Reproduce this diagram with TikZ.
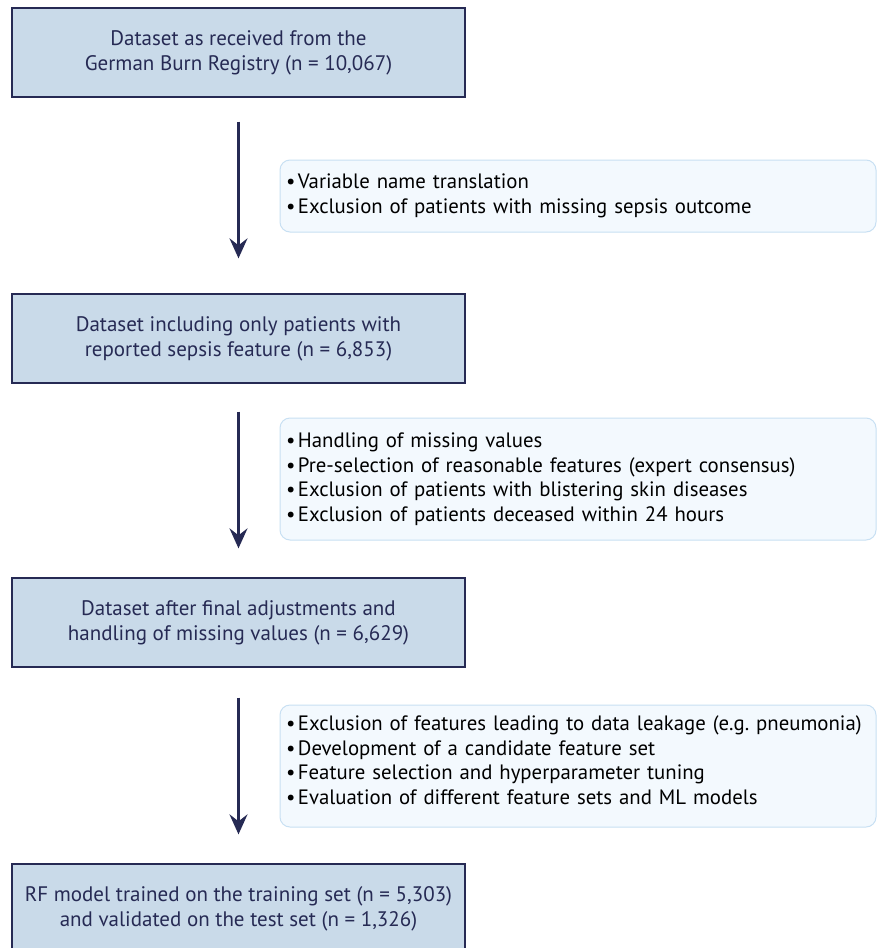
\documentclass[tikz,border=0pt]{standalone}
\usepackage{fontspec}
\setmainfont{PT Sans}
\usetikzlibrary{positioning,arrows.meta}
\definecolor{navyline}{RGB}{38,42,84}
\definecolor{stepblue}{RGB}{201,218,233}
\definecolor{noteedge}{RGB}{200,224,243}
\definecolor{notefill}{RGB}{243,249,254}
\newcommand{\pt}{\textbullet\hspace{2.5pt}}
\frenchspacing
\tikzset{
  stepbox/.style={draw=navyline,line width=1.3pt,fill=stepblue,text=navyline,
    minimum width=453pt,minimum height=89pt,align=center,
    font=\fontsize{21}{25}\selectfont},
  notebox/.style={draw=noteedge,line width=1pt,fill=notefill,rounded corners=10pt,
    minimum width=596pt,text width=584pt,inner xsep=6pt,align=left,
    font=\fontsize{20.8}{24.5}\selectfont},
  flow/.style={navyline,line width=2.4pt,
    -{Stealth[length=20pt,width=18pt,inset=7pt]}}
}
\begin{document}
\begin{tikzpicture}[x=1pt,y=-1pt]
  \useasboundingbox (0,0) rectangle (882,948);
  \clip (0,0) rectangle (882,948);
  \fill[white] (0,0) rectangle (882,948);

  % main steps
  \node[stepbox] (raw)   at (238.5,52.5)  {Dataset as received from the\\German Burn Registry (n = 10,067)};
  \node[stepbox] (sepsis) at (238.5,338.5) {Dataset including only patients with\\reported sepsis feature (n = 6,853)};
  \node[stepbox] (final) at (238.5,622.5) {Dataset after final adjustments and\\handling of missing values (n = 6,629)};
  \node[stepbox] (model) at (238.5,908.5) {RF model trained on the training set (n = 5,303)\\and validated on the test set (n = 1,326)};

  % processing notes
  \node[notebox,minimum height=72pt] (n1) at (578,196)
    {\pt Variable name translation\\
     \pt Exclusion of patients with missing sepsis outcome};
  \node[notebox,minimum height=122pt] (n2) at (578,479)
    {\pt Handling of missing values\\
     \pt Pre-selection of reasonable features (expert consensus)\\
     \pt Exclusion of patients with blistering skin diseases\\
     \pt Exclusion of patients deceased within 24 hours};
  \node[notebox,minimum height=122pt] (n3) at (578,766)
    {\pt Exclusion of features leading to data leakage (e.g. pneumonia)\\
     \pt Development of a candidate feature set\\
     \pt Feature selection and hyperparameter tuning\\
     \pt Evaluation of different feature sets and ML models\par
     \vspace{12pt}\nointerlineskip\hbox{}};

  \draw[flow,shorten <=24pt,shorten >=35pt] (raw) -- (sepsis);
  \draw[flow,shorten <=28pt,shorten >=29pt] (sepsis) -- (final);
  \draw[flow,shorten <=30pt,shorten >=29pt] (final) -- (model);
\end{tikzpicture}
\end{document}
